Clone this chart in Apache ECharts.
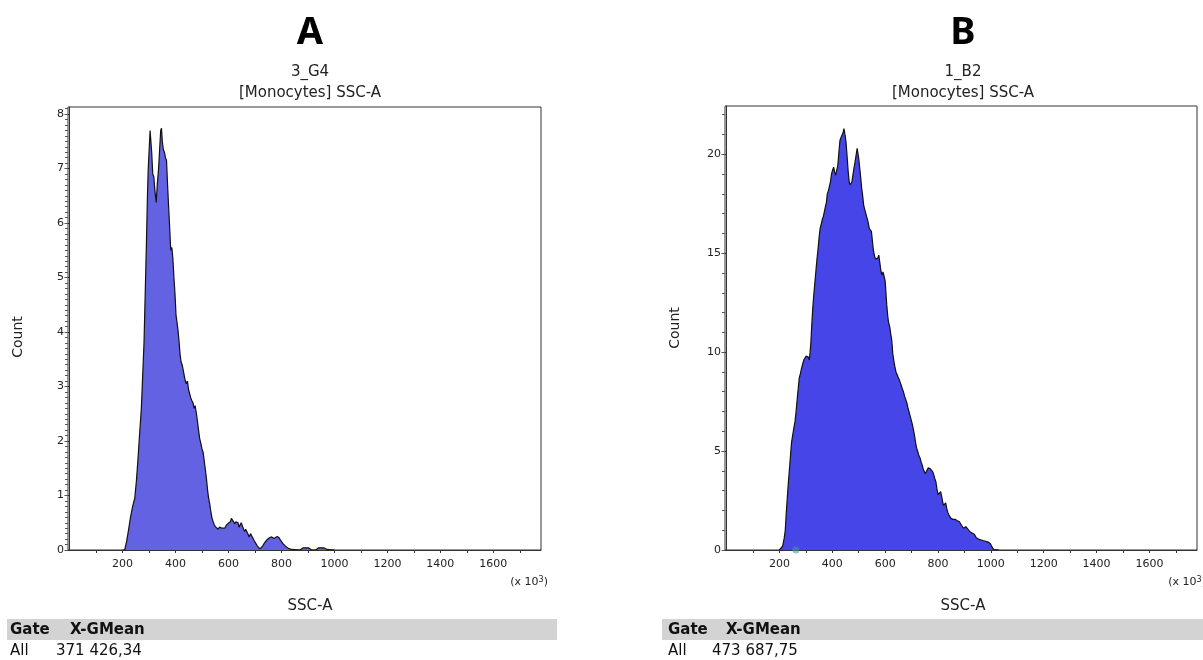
<!DOCTYPE html>
<html>
<head>
<meta charset="utf-8">
<script src="https://cdn.jsdelivr.net/npm/echarts@6/dist/echarts.min.js"></script>
<style>
html,body{margin:0;padding:0;background:#fff;}
#chart{width:1203px;height:660px;}
</style>
</head>
<body>
<div id="chart"></div>
<script>
// ---- Data (SSC-A in x10^3, Count) ----
const xA = [200,208,215,222,230,238,246,252,258,264,271,276,281,285,290,294,297,301,304,307,310,314,318,322,327,331,336,340,344,347,350,354,358,362,366,370,374,378,382,386,390,394,398,402,405,409,413,417,421,425,429,433,437,441,445,449,453,457,461,466,470,474,479,483,487,491,496,500,504,508,512,517,521,525,529,533,537,542,546,550,556,561,566,571,576,581,586,591,595,599,603,607,611,615,619,624,628,632,636,640,644,648,653,657,661,665,668,673,678,683,687,692,697,702,708,713,718,723,727,731,736,740,744,749,753,758,763,768,772,775,779,784,788,792,796,800,805,810,815,820,826,832,838,845,870,876,882,890,896,902,908,914,930,935,940,950,960,966,972,978,1000];
const yA = [0,0,0.15,0.35,0.6,0.8,0.95,1.25,1.65,2.1,2.6,3.2,3.8,4.6,5.6,6.5,7.0,7.4,7.7,7.72,7.3,6.9,6.85,6.6,6.38,6.7,7.0,7.35,7.7,7.74,7.5,7.35,7.3,7.2,7.15,6.7,6.3,5.9,5.5,5.55,5.35,5.0,4.7,4.3,4.2,4.05,3.85,3.6,3.45,3.4,3.3,3.2,3.1,3.05,3.1,2.95,2.95,2.8,2.75,2.7,2.6,2.65,2.5,2.35,2.2,2.05,1.95,1.85,1.8,1.65,1.5,1.3,1.1,0.95,0.85,0.72,0.6,0.52,0.47,0.43,0.42,0.38,0.42,0.44,0.40,0.43,0.40,0.45,0.47,0.49,0.48,0.52,0.58,0.61,0.52,0.48,0.52,0.55,0.5,0.42,0.45,0.5,0.47,0.38,0.34,0.38,0.40,0.3,0.24,0.3,0.31,0.22,0.17,0.13,0.08,0.05,0.02,0.03,0.06,0.09,0.13,0.16,0.18,0.2,0.22,0.24,0.24,0.22,0.21,0.23,0.24,0.25,0.26,0.22,0.18,0.15,0.12,0.1,0.07,0.05,0.03,0.02,0.01,0,0,0.03,0.04,0.04,0.04,0.04,0.02,0,0,0.03,0.04,0.04,0.04,0.03,0.01,0,0];

const xB = [200,206,212,218,222,226,230,234,238,242,246,250,255,259,263,267,271,275,279,284,288,292,297,301,305,309,313,316,319,322,326,330,334,338,342,346,350,354,358,362,366,370,374,378,381,385,389,393,397,401,405,409,413,417,421,425,429,433,437,441,444,448,452,456,460,464,467,471,474,478,482,486,490,494,497,500,503,507,511,515,519,523,527,531,535,540,544,548,552,556,560,564,568,572,576,580,584,588,592,596,600,603,606,610,613,617,621,625,629,633,637,641,646,650,655,660,665,669,674,678,682,686,690,694,698,702,706,711,715,719,723,727,732,736,740,744,748,752,755,759,763,767,771,775,780,784,788,792,796,800,803,807,810,814,818,821,825,829,833,837,841,845,849,853,857,861,865,869,873,877,881,885,889,893,897,901,905,909,913,917,921,925,929,933,937,941,945,949,953,957,961,965,970,975,980,985,990,995,999,1003,1007,1011,1016,1030];
const yB = [0,0,0.2,0.6,1.0,1.9,2.7,3.45,4.1,4.8,5.45,5.8,6.2,6.5,7.0,7.6,8.15,8.7,8.9,9.2,9.4,9.6,9.7,9.8,9.88,9.75,9.6,10.0,10.5,11.3,12.2,12.9,13.5,14.1,14.7,15.2,15.8,16.25,16.45,16.7,16.85,17.1,17.35,17.6,18.0,18.15,18.2,18.6,19.0,19.2,19.35,19.1,18.95,19.2,19.45,20.1,20.7,20.85,20.95,21.1,21.3,21.0,20.6,19.9,19.15,18.6,18.45,18.5,18.6,18.95,19.3,19.6,19.95,20.3,20.2,19.8,19.4,18.9,18.3,17.9,17.4,17.2,17.0,16.9,16.6,16.25,16.2,16.1,15.6,15.1,14.85,14.7,14.6,14.75,14.9,14.5,14.1,13.9,14.05,14.15,13.6,13.0,12.4,11.8,11.5,11.3,11.2,10.6,9.9,9.55,9.25,9.0,8.85,8.7,8.55,8.35,8.15,8.0,7.75,7.6,7.45,7.2,7.0,6.8,6.6,6.4,6.15,5.8,5.45,5.15,5.0,4.8,4.65,4.45,4.3,4.1,4.0,3.85,3.78,3.95,4.15,4.2,4.1,4.0,3.95,3.8,3.6,3.45,3.1,2.8,2.75,2.85,2.95,2.7,2.4,2.25,2.3,2.38,2.1,1.9,1.78,1.7,1.6,1.52,1.55,1.5,1.55,1.52,1.48,1.5,1.43,1.35,1.25,1.15,1.1,1.12,1.18,1.15,1.05,0.98,0.92,0.88,0.86,0.84,0.8,0.7,0.62,0.58,0.55,0.53,0.52,0.51,0.48,0.46,0.44,0.42,0.4,0.36,0.3,0.18,0.08,0.02,0,0];

const gateMarkerB = [[262, 0]];

const xTickLabels = [200,400,600,800,1000,1200,1400,1600];
const xTicks = [100,200,300,400,500,600,700,800,900,1000,1100,1200,1300,1400,1500,1600,1700];
const yLabelsA = [0,1,2,3,4,5,6,7,8];
const yLabelsB = [0,5,10,15,20];

const panelTitles = ['A','B'];
const sampleNames = ['3_G4','1_B2'];
const plotName = '[Monocytes] SSC-A';
const gMeans = ['371 426,34','473 687,75'];

// ---- Chart ----
const FONT = 'DejaVu Sans';
const pairs = (xs, ys) => xs.map((x, i) => [x, ys[i]]);
const range = (a, b, s) => { const r = []; for (let v = a; v <= b + 1e-9; v += s) r.push(Math.round(v * 100) / 100); return r; };

const grids = [
  {left: 68, top: 107, width: 473, height: 443},
  {left: 725, top: 106, width: 472, height: 444}
];

function xAxisFor(gi) {
  return {
    type: 'value', gridIndex: gi, min: -6, max: 1780,
    axisLine: {show: true, lineStyle: {color: '#333', width: 1}},
    axisTick: {show: true, customValues: xTicks, length: 3, lineStyle: {color: '#333'}},
    axisLabel: {show: true, customValues: xTickLabels, formatter: v => String(v), fontFamily: FONT, fontSize: 11, color: '#222', margin: 9},
    splitLine: {show: false}
  };
}
function yAxisMajor(gi, max, labels) {
  return {
    type: 'value', gridIndex: gi, min: 0, max: max,
    axisLine: {show: true, lineStyle: {color: '#333', width: 1}},
    axisTick: {show: true, customValues: labels, length: 5, lineStyle: {color: '#333'}},
    axisLabel: {show: true, customValues: labels, formatter: v => String(v), fontFamily: FONT, fontSize: 11, color: '#222', margin: 4},
    splitLine: {show: false}
  };
}
function yAxisMinor(gi, max, vals) {
  return {
    type: 'value', gridIndex: gi, min: 0, max: max, position: 'left',
    axisLine: {show: false},
    axisTick: {show: true, customValues: vals, length: 3, lineStyle: {color: '#555'}},
    axisLabel: {show: false},
    splitLine: {show: false}
  };
}

const graphics = [];
const centers = [310, 963];
for (let i = 0; i < 2; i++) {
  const cx = centers[i];
  graphics.push({type: 'text', x: cx, y: 33, style: {text: panelTitles[i], font: 'bold 38px "Noto Sans"', fill: '#000', align: 'center', verticalAlign: 'middle'}});
  graphics.push({type: 'text', x: cx, y: 72, style: {text: sampleNames[i], font: '15px ' + FONT, fill: '#222', align: 'center', verticalAlign: 'middle'}});
  graphics.push({type: 'text', x: cx, y: 93, style: {text: plotName, font: '15px ' + FONT, fill: '#222', align: 'center', verticalAlign: 'middle'}});
  graphics.push({type: 'text', x: cx, y: 606, style: {text: 'SSC-A', font: '15px ' + FONT, fill: '#222', align: 'center', verticalAlign: 'middle'}});
}
// Count labels
graphics.push({type: 'text', x: 18, y: 337, rotation: Math.PI / 2, style: {text: 'Count', font: '14px ' + FONT, fill: '#222', align: 'center', verticalAlign: 'middle'}});
graphics.push({type: 'text', x: 675, y: 328, rotation: Math.PI / 2, style: {text: 'Count', font: '14px ' + FONT, fill: '#222', align: 'center', verticalAlign: 'middle'}});
// (x 10^3)
const expRich = {a: {font: '11px ' + FONT, fill: '#222'}, s: {font: '8px ' + FONT, fill: '#222', verticalAlign: 'top', padding: [0,0,5,0]}};
graphics.push({type: 'text', x: 548, y: 582, style: {rich: expRich, text: '{a|(x 10}{s|3}{a|)}', align: 'right', verticalAlign: 'middle'}});
graphics.push({type: 'text', x: 1206, y: 582, style: {rich: expRich, text: '{a|(x 10}{s|3}{a|)}', align: 'right', verticalAlign: 'middle'}});
// Tables
const tables = [{x0: 7, x1: 557, tx: 10, vx: 56, hx: 70}, {x0: 662, x1: 1203, tx: 668, vx: 712, hx: 726}];
for (let i = 0; i < 2; i++) {
  const t = tables[i];
  graphics.push({type: 'rect', shape: {x: t.x0, y: 619, width: t.x1 - t.x0, height: 21}, style: {fill: '#d3d3d3'}});
  graphics.push({type: 'text', x: t.tx, y: 630, style: {text: 'Gate', font: 'bold 15px ' + FONT, fill: '#111', verticalAlign: 'middle'}});
  graphics.push({type: 'text', x: t.hx, y: 630, style: {text: 'X-GMean', font: 'bold 15px ' + FONT, fill: '#111', verticalAlign: 'middle'}});
  graphics.push({type: 'text', x: t.tx, y: 651, style: {text: 'All', font: '15px ' + FONT, fill: '#111', verticalAlign: 'middle'}});
  graphics.push({type: 'text', x: t.vx, y: 651, style: {text: gMeans[i], font: '15px ' + FONT, fill: '#111', verticalAlign: 'middle'}});
}

const option = {
  animation: false,
  backgroundColor: '#fff',
  grid: grids.map(g => Object.assign({show: true, borderColor: '#333', borderWidth: 1, backgroundColor: 'transparent'}, g)),
  xAxis: [xAxisFor(0), xAxisFor(1)],
  yAxis: [
    yAxisMajor(0, 8.13, yLabelsA),
    yAxisMinor(0, 8.13, range(0, 8.1, 0.1)),
    yAxisMajor(1, 22.44, yLabelsB),
    yAxisMinor(1, 22.44, range(0, 22, 1))
  ],
  series: [
    {type: 'line', xAxisIndex: 0, yAxisIndex: 0, data: pairs(xA, yA), symbol: 'none', smooth: false,
     lineStyle: {color: '#111', width: 1.2}, areaStyle: {color: '#6262E2', opacity: 1}},
    {type: 'line', xAxisIndex: 1, yAxisIndex: 2, data: pairs(xB, yB), symbol: 'none', smooth: false,
     lineStyle: {color: '#111', width: 1.2}, areaStyle: {color: '#4646E8', opacity: 1}},
    {type: 'scatter', xAxisIndex: 1, yAxisIndex: 2, data: gateMarkerB, symbolSize: 7,
     itemStyle: {color: 'rgba(70,150,170,0.7)'}, z: 3, clip: true}
  ],
  graphic: graphics
};

const chart = echarts.init(document.getElementById('chart'), null, {renderer: 'canvas'});
chart.setOption(option);
</script>
</body>
</html>
